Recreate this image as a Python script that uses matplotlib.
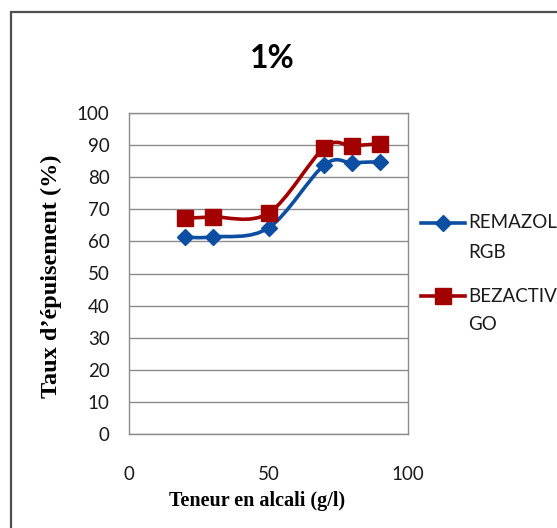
import numpy as np
import matplotlib
matplotlib.use("Agg")
import matplotlib.pyplot as plt
from matplotlib.path import Path
from matplotlib.patches import PathPatch, Rectangle
from matplotlib.lines import Line2D

# ---- data ----
alkali = [20, 30, 50, 70, 80, 90]
remazol = [61.3, 61.4, 64.2, 83.8, 84.5, 84.8]
bezactiv = [67.3, 67.6, 68.8, 89.2, 89.8, 90.4]
series_names = [["REMAZOL", "RGB"], ["BEZACTIV", "GO"]]
title = "1%"
xlabel = "Teneur en alcali (g/l)"
ylabel = "Taux d\u2019épuisement (%)"
xticks = [0, 50, 100]
yticks = list(range(0, 101, 10))

BLUE = "#0B4EA2"
RED = "#A30000"
GRID = "#8c8c8c"
TXT = "#1a1a1a"

W, H = 557, 528
fig = plt.figure(figsize=(W / 100, H / 100), dpi=100)

# outer chart border (cropped on right/bottom)
fig.patches.append(Rectangle((11 / W, -0.1), 1.2, (H - 12) / H + 0.1,
                             transform=fig.transFigure, fill=False,
                             edgecolor="#505050", linewidth=1.6))

ax = fig.add_axes([129 / W, (H - 434) / H, (408 - 129) / W, (434 - 113) / H])
ax.set_xlim(0, 100)
ax.set_ylim(0, 100)
ax.set_xticks(xticks)
ax.set_yticks(yticks)
ax.yaxis.grid(True, color=GRID, linewidth=1.0)
ax.set_axisbelow(True)
for s in ax.spines.values():
    s.set_color(GRID)
    s.set_linewidth(1.0)
ax.tick_params(length=0)
ax.tick_params(axis="x", pad=23, labelsize=13.5)
ax.tick_params(axis="y", pad=14, labelsize=13.5)
for lab in ax.get_xticklabels() + ax.get_yticklabels():
    lab.set_fontfamily("Lato")
    lab.set_color(TXT)


def smooth_path(xs, ys):
    pts = np.column_stack([xs, ys]).astype(float)
    n = len(pts)
    verts = [pts[0]]
    codes = [Path.MOVETO]
    for i in range(n - 1):
        p0 = pts[i - 1] if i > 0 else pts[i]
        p1 = pts[i]
        p2 = pts[i + 1]
        p3 = pts[i + 2] if i + 2 < n else pts[i + 1]
        c1 = p1 + (p2 - p0) / 6.0
        c2 = p2 - (p3 - p1) / 6.0
        verts += [c1, c2, p2]
        codes += [Path.CURVE4] * 3
    return Path(verts, codes)


for ys, col, mk, ms in [(remazol, BLUE, "D", 8.5), (bezactiv, RED, "s", 11)]:
    patch = PathPatch(smooth_path(alkali, ys), fill=False, edgecolor=col,
                      linewidth=2.6, transform=ax.transData, zorder=3,
                      capstyle="round", joinstyle="round")
    ax.add_patch(patch)
    ax.plot(alkali, ys, linestyle="none", marker=mk, markersize=ms,
            color=col, markeredgecolor=col, zorder=4)

# title
fig.text(272 / W, 1 - 59 / H, title, fontsize=23, fontweight="bold",
         family="Lato", ha="center", va="center")

# axis labels
fig.text(257 / W, 1 - 501 / H, xlabel, fontsize=14.5, fontweight="bold",
         family="Liberation Serif", ha="center", va="center")
fig.text(51 / W, 1 - 276 / H, ylabel, fontsize=17.5, fontweight="bold",
         family="Liberation Serif", ha="center", va="center", rotation=90)

# legend (manual placement in figure pixels)
for (lines, col, mk, ms, y1) in [(series_names[0], BLUE, "D", 8.5, 223),
                                 (series_names[1], RED, "s", 11, 296)]:
    fy = 1 - y1 / H
    fig.add_artist(Line2D([421 / W, 465 / W], [fy, fy], color=col,
                          linewidth=2.6, transform=fig.transFigure))
    fig.add_artist(Line2D([443 / W], [fy], marker=mk, markersize=ms,
                          color=col, linestyle="none",
                          transform=fig.transFigure))
    for k, line in enumerate(lines):
        fig.text(468 / W, 1 - (y1 + 29 * k) / H, line, fontsize=13.5,
                 family="Lato", ha="left", va="center", color=TXT)

fig.savefig("out.png", dpi=100)
